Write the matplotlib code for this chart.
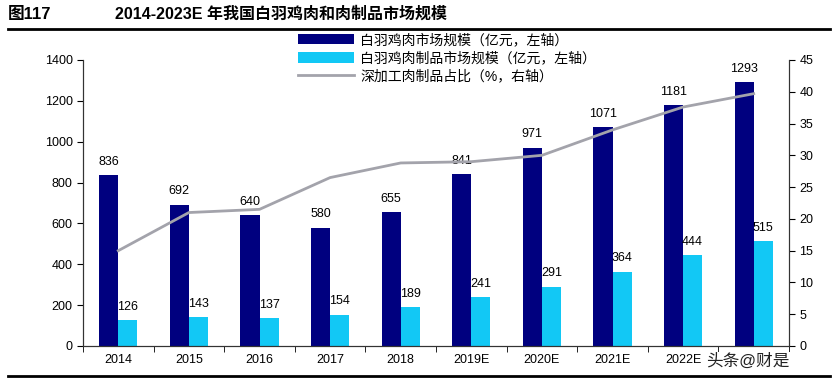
import matplotlib
matplotlib.use('Agg')
import matplotlib.pyplot as plt
import numpy as np

plt.rcParams['font.family'] = ['Liberation Sans', 'Noto Sans CJK SC', 'DejaVu Sans']

# data
years = ['2014', '2015', '2016', '2017', '2018', '2019E', '2020E', '2021E', '2022E', '2023E']
meat_market = [836, 692, 640, 580, 655, 841, 971, 1071, 1181, 1293]
product_market = [126, 143, 137, 154, 189, 241, 291, 364, 444, 515]
deep_share = [15, 21, 21.5, 26.5, 28.8, 29, 30, 34, 37.6, 39.7]

dark = '#00007f'
light = '#12c8f5'
grey = '#a3a3ab'

fig = plt.figure(figsize=(8.32, 3.82), dpi=100)
ax = fig.add_axes([83/832, 1-346/382, (789-83)/832, (346-60)/382])
ax2 = ax.twinx()

x = np.arange(len(years))
w = 0.27
b1 = ax.bar(x - w/2, meat_market, w, color=dark, label='白羽鸡肉市场规模（亿元，左轴）', zorder=2)
b2 = ax.bar(x + w/2, product_market, w, color=light, label='白羽鸡肉制品市场规模（亿元，左轴）', zorder=2)
ln, = ax2.plot(x, deep_share, color=grey, lw=2, label='深加工肉制品占比（%，右轴）')

for xi, v in zip(x, meat_market):
    ax.text(xi - w/2, v + 35, str(v), ha='center', va='bottom', fontsize=9)
for xi, v in zip(x, product_market):
    ax.text(xi + w/2, v + 35, str(v), ha='center', va='bottom', fontsize=9)

ax.set_xlim(-0.5, len(years) - 0.5)
ax.set_ylim(0, 1400)
ax.set_yticks(range(0, 1401, 200))
ax2.set_ylim(0, 45)
ax2.set_yticks(range(0, 46, 5))

ax.set_xticks(x)
ax.set_xticklabels(years, fontsize=9)
ax.set_xticks(np.arange(-0.5, len(years), 1), minor=True)
ax.tick_params(axis='x', which='major', length=0, pad=6)
ax.tick_params(axis='x', which='minor', length=4, direction='out')
ax.tick_params(axis='y', labelsize=9, length=4, direction='out')
ax2.tick_params(axis='y', labelsize=9, length=4, direction='out')

for a in (ax, ax2):
    a.spines['top'].set_visible(False)
    for s in a.spines.values():
        s.set_color('#333333')
        s.set_linewidth(0.8)

ax2.set_zorder(ax.get_zorder() + 1)
ax2.patch.set_visible(False)

fig.legend(handles=[b1, b2, ln], loc='upper left', bbox_to_anchor=(298/832, 1-33/382),
           frameon=False, fontsize=10, handlelength=4.0, handleheight=0.8,
           labelspacing=0.3, borderaxespad=0, borderpad=0, handletextpad=0.5)

# title and rules
fig.text(8/832, 1-14/382, '图117', fontsize=12, fontweight='bold', va='center')
fig.text(115/832, 1-14/382, '2014-2023E 年我国白羽鸡肉和肉制品市场规模', fontsize=11.5,
         fontweight='bold', va='center')
fig.add_artist(plt.Line2D([8/832, 830/832], [1-29/382, 1-29/382], color='black', lw=2))
fig.add_artist(plt.Line2D([8/832, 830/832], [1-376/382, 1-376/382], color='black', lw=2))
fig.text(706/832, 1-361/382, '头条@财是', fontsize=12, color='#222222', va='center', zorder=10,
         bbox=dict(facecolor='white', edgecolor='none', pad=1))

fig.savefig('out.png', dpi=100)
